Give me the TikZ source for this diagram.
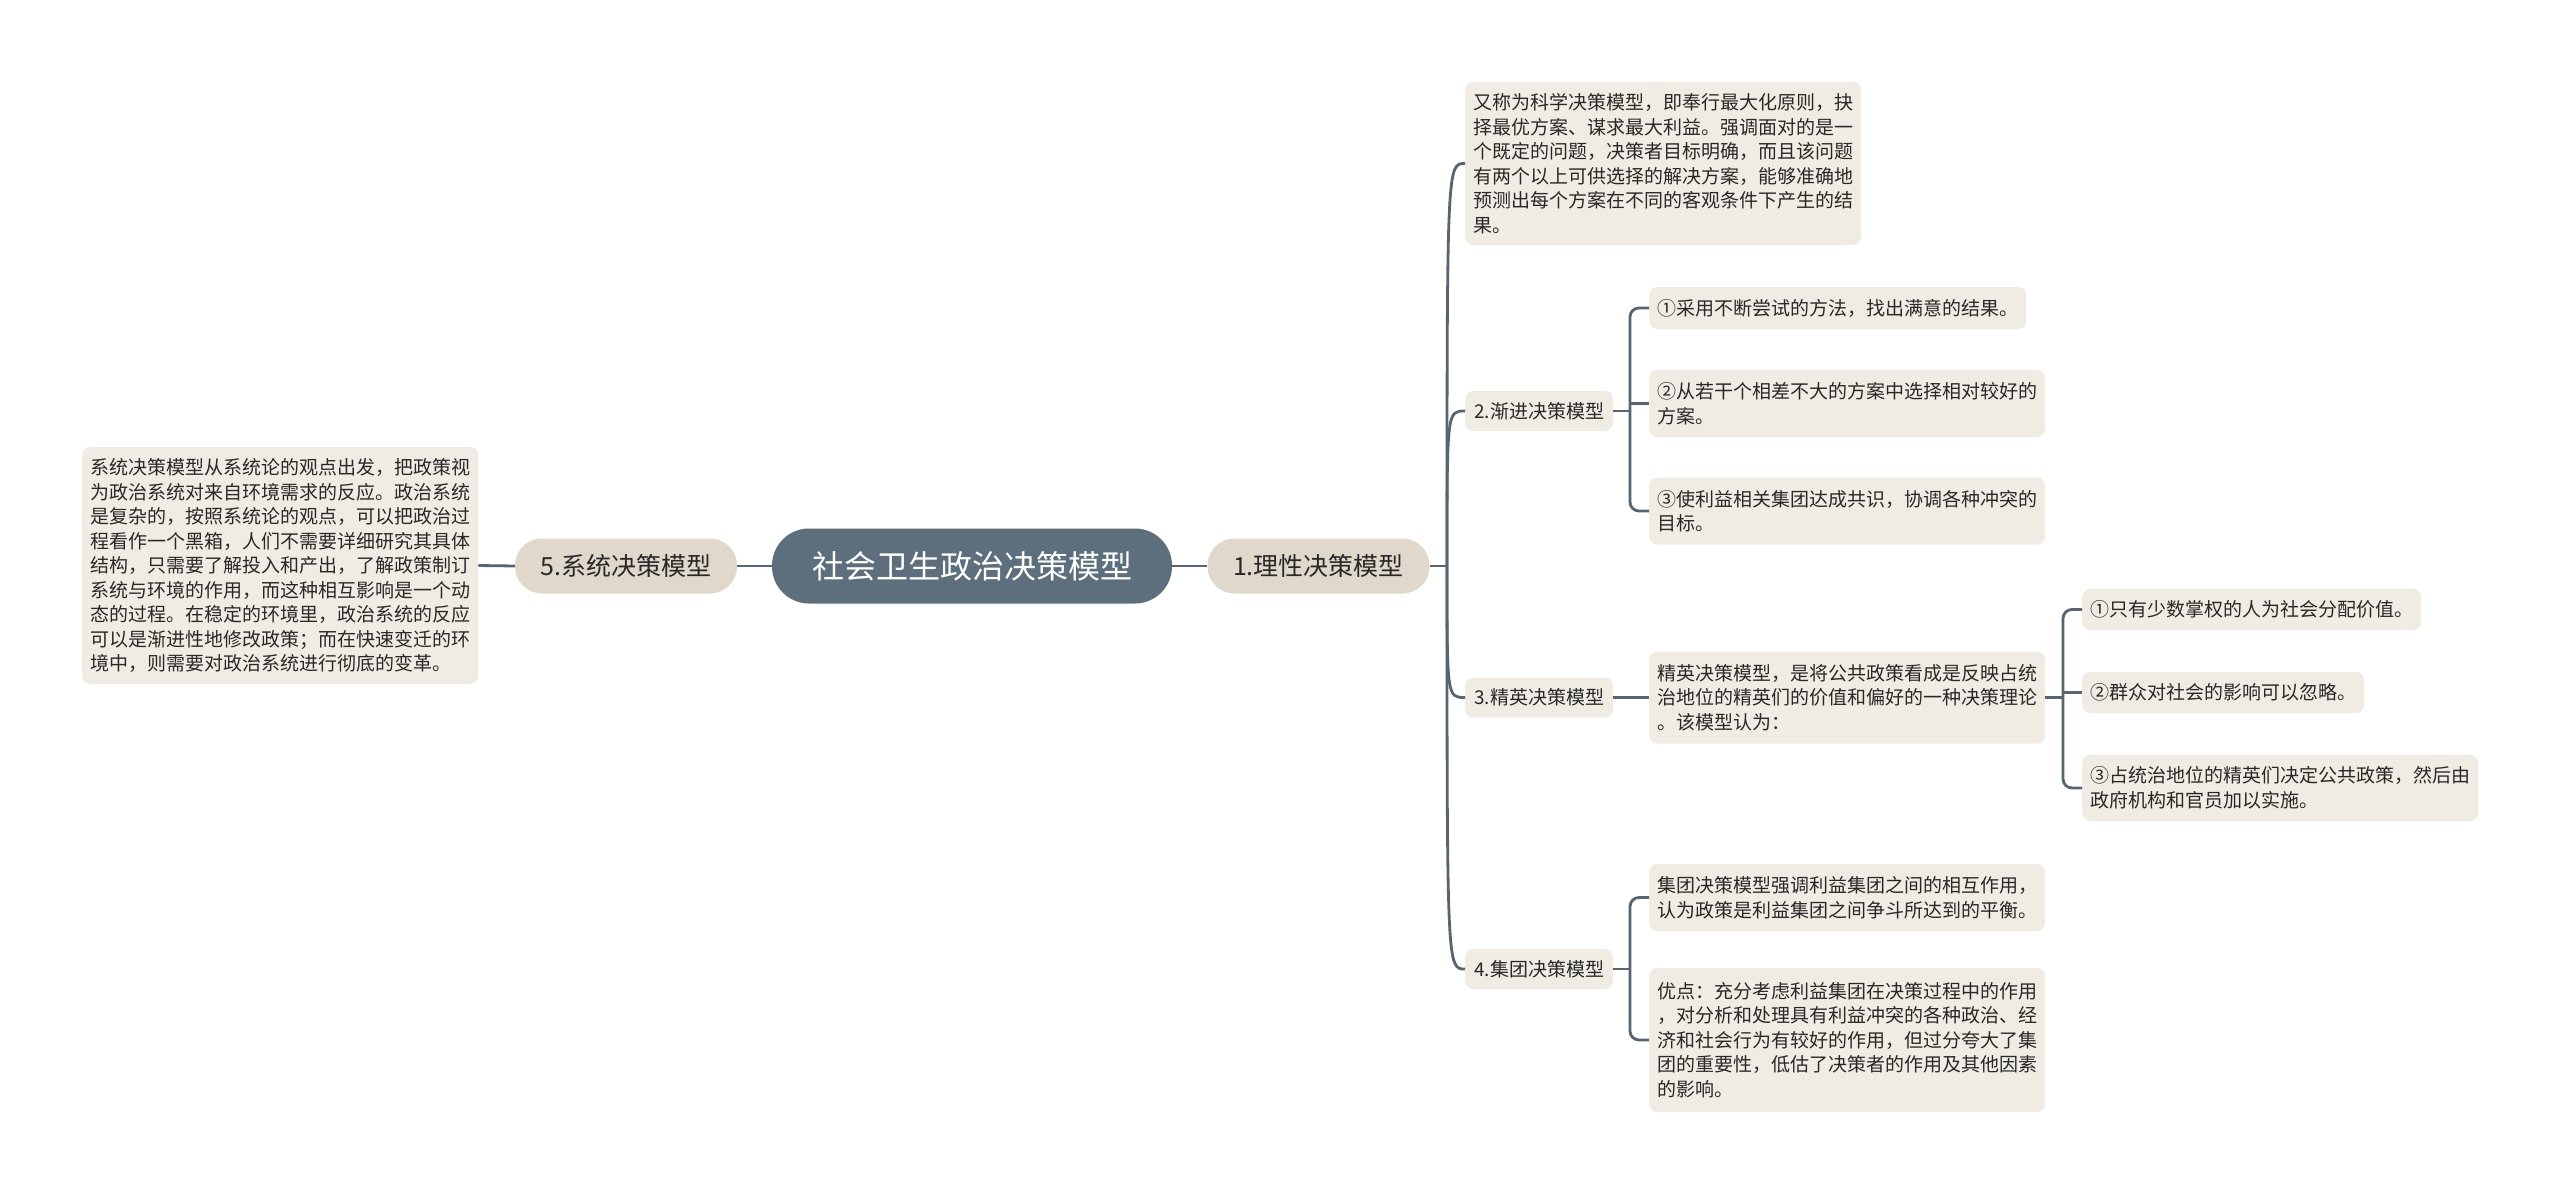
\documentclass[tikz,border=0pt]{standalone}
\usepackage{fontspec}
\setmainfont{Noto Sans CJK SC}
\definecolor{leafc}{RGB}{240,236,228}
\definecolor{lonec}{RGB}{224,216,202}
\definecolor{rootc}{RGB}{93,111,124}
\definecolor{linec}{RGB}{86,101,112}
\definecolor{txtc}{RGB}{40,40,40}
\begin{document}
\begin{tikzpicture}[x=1pt,y=-1pt,
  leaf/.style={fill=leafc, rounded corners=8pt, inner xsep=8pt, inner ysep=3pt, align=left,
    font=\fontsize{19}{24.5}\selectfont, text=txtc, anchor=west},
  ltwo/.style={fill=leafc, rounded corners=8pt, inner xsep=9pt, inner ysep=3pt, minimum height=40pt,
    font=\fontsize{19}{24}\selectfont, text=txtc, anchor=west},
  lone/.style={fill=lonec, rounded corners=27pt, minimum width=222pt, minimum height=55pt,
    font=\fontsize{25}{30}\selectfont, text=txtc},
  rootn/.style={fill=rootc, rounded corners=37pt, minimum width=400pt, minimum height=75pt,
    font=\fontsize{32}{38}\selectfont, text=white},
  conn/.style={draw=linec, line width=2.8pt}]
\useasboundingbox[fill=white] (0,0) rectangle (2560,1193);

% root and first level
\node[rootn] (root) at (972,566) {社会卫生政治决策模型};
\node[lone] (l1) at (1318.5,566) {1.理性决策模型};
\node[lone] (l5) at (626,566) {5.系统决策模型};

% left text
\node[leaf, minimum height=237pt] (left) at (82,565.5) {系统决策模型从系统论的观点出发，把政策视\\为政治系统对来自环境需求的反应。政治系统\\是复杂的，按照系统论的观点，可以把政治过\\程看作一个黑箱，人们不需要详细研究其具体\\结构，只需要了解投入和产出，了解政策制订\\系统与环境的作用，而这种相互影响是一个动\\态的过程。在稳定的环境里，政治系统的反应\\可以是渐进性地修改政策；而在快速变迁的环\\境中，则需要对政治系统进行彻底的变革。};

% right second level
\node[leaf, minimum height=163pt] (t) at (1465,163.5) {又称为科学决策模型，即奉行最大化原则，抉\\择最优方案、谋求最大利益。强调面对的是一\\个既定的问题，决策者目标明确，而且该问题\\有两个以上可供选择的解决方案，能够准确地\\预测出每个方案在不同的客观条件下产生的结\\果。};
\node[ltwo] (n2) at (1465,411) {2.渐进决策模型};
\node[ltwo] (n3) at (1465,697.5) {3.精英决策模型};
\node[ltwo] (n4) at (1465,969) {4.集团决策模型};

% children of 2
\node[leaf, minimum height=42pt] (c21) at (1649,308) {①采用不断尝试的方法，找出满意的结果。};
\node[leaf, minimum height=67pt] (c22) at (1649,403.5) {②从若干个相差不大的方案中选择相对较好的\\方案。};
\node[leaf, minimum height=67pt] (c23) at (1649,511) {③使利益相关集团达成共识，协调各种冲突的\\目标。};

% child of 3
\node[leaf, minimum height=92pt] (c31) at (1649,697.5) {精英决策模型，是将公共政策看成是反映占统\\治地位的精英们的价值和偏好的一种决策理论\\。该模型认为：};
\node[leaf, minimum height=41pt] (g1) at (2082,609.5) {①只有少数掌权的人为社会分配价值。};
\node[leaf, minimum height=41pt] (g2) at (2082,692.5) {②群众对社会的影响可以忽略。};
\node[leaf, minimum height=66pt] (g3) at (2082,788) {③占统治地位的精英们决定公共政策，然后由\\政府机构和官员加以实施。};

% children of 4
\node[leaf, minimum height=67pt] (c41) at (1649,897.5) {集团决策模型强调利益集团之间的相互作用，\\认为政策是利益集团之间争斗所达到的平衡。};
\node[leaf, minimum height=144pt] (c42) at (1649,1040) {优点：充分考虑利益集团在决策过程中的作用\\，对分析和处理具有利益冲突的各种政治、经\\济和社会行为有较好的作用，但过分夸大了集\\团的重要性，低估了决策者的作用及其他因素\\的影响。};

% connectors: left side
\draw[conn] (root.west) -- (l5.east);
\draw[conn] (l5.west) -- (left.east);
\draw[conn] (root.east) -- (l1.west);

% connectors: right trunk
\coordinate (j1) at (1447,566);
\draw[conn] (l1.east) -- (j1);
\foreach \n in {t,n2,n3,n4}
  \draw[conn] (j1) .. controls (j1 |- \n.west) .. (\n.west);

% bracket of 2
\coordinate (b2) at (1630,0);
\draw[conn] (n2.east) -- (n2.east -| b2);
\draw[conn, rounded corners=9pt] (c21.west) -- (c21.west -| b2) -- (c23.west -| b2) -- (c23.west);
\draw[conn] (c22.west -| b2) -- (c22.west);

% 3
\draw[conn] (n3.east) -- (c31.west);
\coordinate (b3) at (2063,0);
\draw[conn] (c31.east) -- (c31.east -| b3);
\draw[conn, rounded corners=9pt] (g1.west) -- (g1.west -| b3) -- (g3.west -| b3) -- (g3.west);
\draw[conn] (g2.west -| b3) -- (g2.west);

% bracket of 4
\coordinate (b4) at (1630,0);
\draw[conn] (n4.east) -- (n4.east -| b4);
\draw[conn, rounded corners=9pt] (c41.west) -- (c41.west -| b4) -- (c42.west -| b4) -- (c42.west);
\end{tikzpicture}
\end{document}
